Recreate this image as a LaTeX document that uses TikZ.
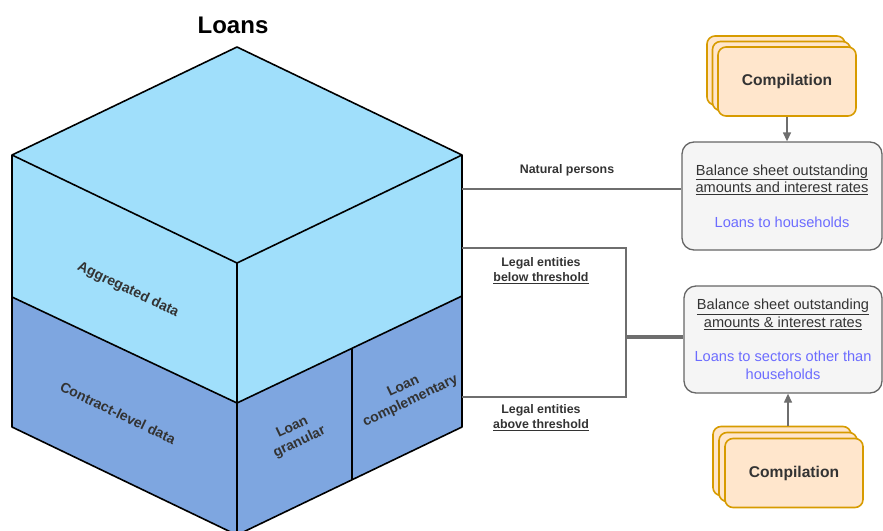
\documentclass[tikz,border=0pt]{standalone}
\usepackage{fontspec}
\setmainfont{Liberation Sans}
\usetikzlibrary{arrows.meta}
\definecolor{lightcube}{RGB}{160,223,251}
\definecolor{darkcube}{RGB}{126,166,224}
\definecolor{boxfill}{RGB}{245,245,245}
\definecolor{boxline}{RGB}{102,102,102}
\definecolor{txtgray}{RGB}{51,51,51}
\definecolor{linkblue}{RGB}{108,108,255}
\definecolor{compfill}{RGB}{255,230,204}
\definecolor{compline}{RGB}{215,155,0}
\definecolor{conn}{RGB}{110,110,110}
\tikzset{
  face/.style={draw=black, line width=1.6pt, line join=round},
  cubelabel/.style={font=\fontsize{14}{16.5}\selectfont\bfseries, text=txtgray, align=center},
  infobox/.style={draw=boxline, fill=boxfill, line width=1.3pt, rounded corners=12pt, align=center, text=txtgray, font=\fontsize{14.6}{17.5}\selectfont},
  compbox/.style={draw=compline, fill=compfill, line width=1.6pt, rounded corners=8pt, minimum width=138pt, minimum height=69pt},
  comptext/.style={font=\fontsize{15.6}{18}\selectfont\bfseries, text=txtgray},
  link/.style={draw=conn, line width=1.8pt},
  thicklink/.style={draw=conn, line width=3.5pt},
  connlabel/.style={font=\fontsize{12.4}{15}\selectfont\bfseries, text=txtgray, align=center},
  arrowlink/.style={draw=conn, line width=1.3pt, -{Triangle[length=9pt,width=8pt]}}
}
\begin{document}
\begin{tikzpicture}[x=1pt,y=-1pt]
\useasboundingbox (0,0) rectangle (883,530);
% cube coordinates
\coordinate (T) at (237,47);
\coordinate (L) at (12,155);
\coordinate (R) at (462,155);
\coordinate (F) at (237,263);
\coordinate (LB) at (12,427);
\coordinate (FB) at (237,535);
\coordinate (RB) at (462,427);
\coordinate (LM) at (12,297);
\coordinate (FM) at (237,403);
\coordinate (RM) at (462,296);
\coordinate (DM) at (352,349);
\coordinate (DB) at (352,480);
% faces
\fill[lightcube] (T) -- (R) -- (F) -- (L) -- cycle;
\fill[lightcube] (L) -- (F) -- (FM) -- (LM) -- cycle;
\fill[lightcube] (F) -- (R) -- (RM) -- (FM) -- cycle;
\fill[darkcube] (LM) -- (FM) -- (FB) -- (LB) -- cycle;
\fill[darkcube] (FM) -- (RM) -- (RB) -- (FB) -- cycle;
\draw[face] (T) -- (R) -- (RB) -- (FB) -- (LB) -- (L) -- cycle;
\draw[face] (L) -- (F) -- (R);
\draw[face] (F) -- (FB);
\draw[face] (LM) -- (FM) -- (RM);
\draw[face] (DM) -- (DB);
% title
\node[font=\fontsize{24}{28}\selectfont\bfseries] (title) at (233,25) {Loans};
% cube labels
\node[cubelabel, rotate=-25.6] (agg) at (128,290) {Aggregated data};
\node[cubelabel, rotate=-25.6] (contract) at (118,413) {Contract-level data};
\node[cubelabel, rotate=25.6] (granular) at (296,435) {Loan\\granular};
\node[cubelabel, rotate=25.6] (compl) at (407,394) {Loan\\complementary};
% right boxes
\node[infobox, minimum width=200pt, minimum height=108pt] (hh) at (782,196)
  {\underline{Balance sheet outstanding}\\\underline{amounts and interest rates}\\[17pt]\textcolor{linkblue}{Loans to households}};
\node[infobox, minimum width=198pt, minimum height=107pt] (oth) at (783,339.5)
  {\underline{Balance sheet outstanding}\\\underline{amounts \& interest rates}\\[17pt]\textcolor{linkblue}{Loans to sectors other than}\\\textcolor{linkblue}{households}};
% compilation stacks
\node[compbox] (c1b) at (776,70.5) {};
\node[compbox] (c1m) at (781.5,76) {};
\node[compbox] (c1) at (787,81.5) {};
\node[comptext] (c1t) at (c1) {Compilation};
\node[compbox] (c2b) at (782,461) {};
\node[compbox] (c2m) at (788,467) {};
\node[compbox] (c2) at (794,473) {};
\node[comptext] (c2t) at (c2) {Compilation};
% connector anchors on the cube
\coordinate (np) at (462,189);
\coordinate (le1) at (462,248);
\coordinate (le2) at (462,397);
\coordinate (k1) at (626,248);
\coordinate (k2) at (626,397);
\coordinate (km) at (626,337);
% connectors
\draw[link] (np) -- (np -| hh.west);
\draw[link] (le1) -- (k1) -- (k2) -- (le2);
\draw[thicklink] (km) -- (km -| oth.west);
\draw[arrowlink] (c1.south -| 787,0) -- (hh.north -| 787,0);
\draw[arrowlink] (c2b.north -| 788,0) -- (oth.south -| 788,0);
% connector labels
\node[connlabel] (lnp) at (567,170) {Natural persons};
\node[connlabel] (lbt) at (541,271) {Legal entities\\\underline{below threshold}};
\node[connlabel] (lat) at (541,418) {Legal entities\\\underline{above threshold}};
\end{tikzpicture}
\end{document}
